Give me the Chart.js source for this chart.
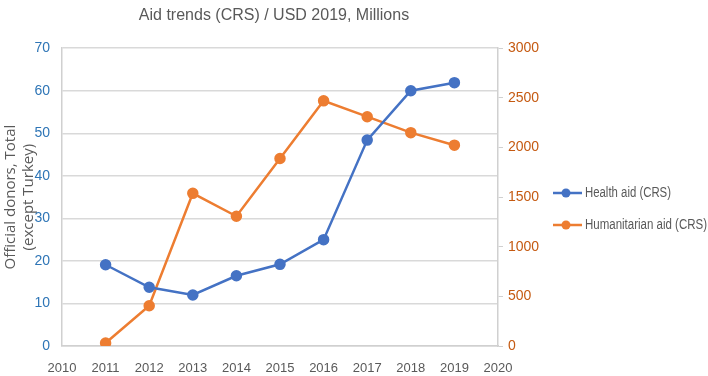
<!DOCTYPE html>
<html>
<head>
<meta charset="utf-8">
<script src="https://cdn.jsdelivr.net/npm/chart.js@4.4.0/dist/chart.umd.min.js"></script>
<style>
  html, body { margin: 0; padding: 0; background: #fff; }
  #wrap { width: 708px; height: 376px; }
</style>
</head>
<body>
<div id="wrap"><canvas id="myChart" width="708" height="376"></canvas></div>
<script>
const years = [2011, 2012, 2013, 2014, 2015, 2016, 2017, 2018, 2019];
const healthAid = [19.1, 13.8, 12.0, 16.5, 19.2, 25.0, 48.4, 60.0, 61.9];
const humanitarianAid = [30, 405, 1538, 1307, 1889, 2470, 2310, 2149, 2023];

const grey = "#595959";
const narrow = "'Liberation Sans', Arial, sans-serif";
const wide = "'Open Sans', 'Liberation Sans', sans-serif";

// legend drawn by hand: line with a dot, like the spreadsheet legend
const sideLegend = {
    id: "sideLegend",
    afterDraw(chart) {
        const c = chart.ctx;
        const rows = [193, 225];
        const widths = [86, 122];
        chart.data.datasets.forEach((ds, i) => {
            const y = rows[i];
            c.save();
            c.strokeStyle = ds.borderColor;
            c.lineWidth = 2.5;
            c.beginPath();
            c.moveTo(553, y);
            c.lineTo(582, y);
            c.stroke();
            c.fillStyle = ds.borderColor;
            c.beginPath();
            c.arc(566, y, 4.5, 0, Math.PI * 2);
            c.fill();
            c.fillStyle = grey;
            c.font = "14px " + narrow;
            c.textBaseline = "middle";
            c.fillText(ds.label, 585, y, widths[i]);
            c.restore();
        });
    }
};

const ctx = document.getElementById("myChart").getContext("2d");

new Chart(ctx, {
    type: "line",
    data: {
        datasets: [
            {
                label: "Health aid (CRS)",
                data: years.map((y, i) => ({ x: y, y: healthAid[i] })),
                borderColor: "#4472c4",
                backgroundColor: "#4472c4",
                borderWidth: 2.5,
                pointRadius: 4.5,
                yAxisID: "y"
            },
            {
                label: "Humanitarian aid (CRS)",
                data: years.map((y, i) => ({ x: y, y: humanitarianAid[i] })),
                borderColor: "#ed7d31",
                backgroundColor: "#ed7d31",
                borderWidth: 2.5,
                pointRadius: 4.5,
                yAxisID: "y1"
            }
        ]
    },
    options: {
        responsive: false,
        animation: false,
        layout: { padding: { top: 6, right: 160, bottom: 0, left: 0 } },
        plugins: {
            legend: { display: false },
            tooltip: { enabled: false },
            title: {
                display: true,
                text: "Aid trends (CRS) / USD 2019, Millions",
                color: grey,
                font: { family: narrow, size: 16, weight: "normal" },
                padding: { top: 0, bottom: 23 }
            }
        },
        scales: {
            x: {
                type: "linear",
                min: 2010,
                max: 2020,
                ticks: {
                    stepSize: 1,
                    color: grey,
                    font: { family: narrow, size: 13 },
                    padding: 15,
                    callback: v => String(v)
                },
                grid: { display: false, drawTicks: false },
                border: { color: "#d0d0d0", width: 1.5 },
                afterFit: s => { s.height = 30; }
            },
            y: {
                position: "left",
                min: 0,
                max: 70,
                ticks: {
                    stepSize: 10,
                    color: "#2e75b6",
                    font: { family: narrow, size: 14 },
                    padding: 12
                },
                grid: { color: "#d9d9d9", lineWidth: 1.5, drawTicks: false },
                border: { color: "#d0d0d0", width: 1.5 },
                title: {
                    display: true,
                    text: ["Official donors, Total", "(except Turkey)"],
                    color: grey,
                    font: { family: wide, size: 15 },
                    padding: { top: 2, bottom: 0 }
                },
                afterFit: s => { s.width = 62; }
            },
            y1: {
                position: "right",
                min: 0,
                max: 3000,
                ticks: {
                    stepSize: 500,
                    color: "#c55a11",
                    font: { family: narrow, size: 14 },
                    padding: 5,
                    callback: v => String(v)
                },
                grid: { drawOnChartArea: false, color: "#d0d0d0", tickLength: 5 },
                border: { color: "#d0d0d0", width: 1.5 },
                afterFit: s => { s.width = 50; }
            }
        }
    },
    plugins: [sideLegend]
});
</script>
</body>
</html>
